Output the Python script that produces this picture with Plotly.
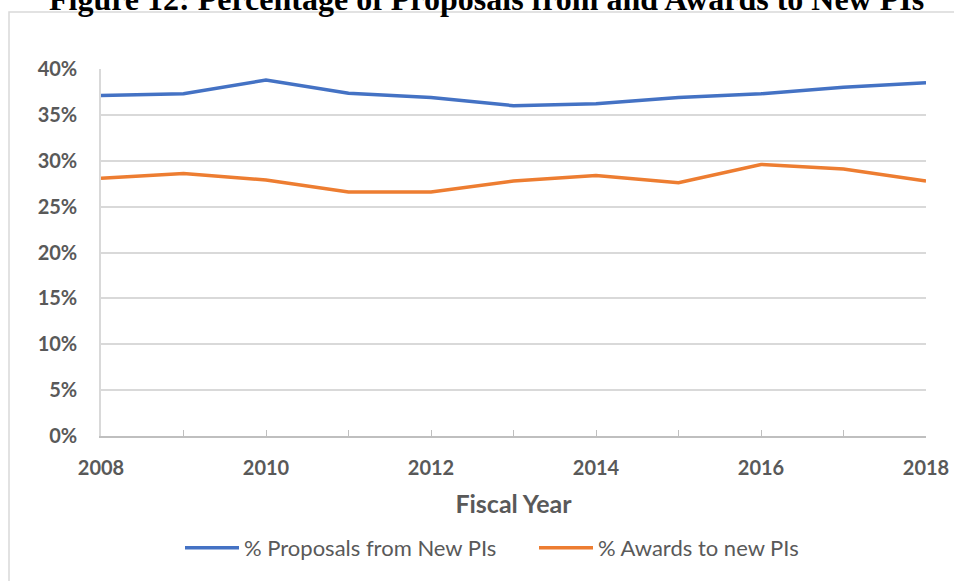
import plotly.graph_objects as go

years = [2008, 2009, 2010, 2011, 2012, 2013, 2014, 2015, 2016, 2017, 2018]
proposals_new_pi = [37.1, 37.3, 38.8, 37.35, 36.9, 36.0, 36.2, 36.9, 37.3, 38.0, 38.5]
awards_new_pi = [28.1, 28.6, 27.9, 26.6, 26.6, 27.8, 28.4, 27.6, 29.6, 29.1, 27.8]
y_ticks = [0, 5, 10, 15, 20, 25, 30, 35, 40]
y_tick_labels = ["0%", "5%", "10%", "15%", "20%", "25%", "30%", "35%", "40%"]
x_ticks = [2008, 2010, 2012, 2014, 2016, 2018]

title_text = "Figure 12: Percentage of Proposals from and Awards to New PIs"
series_names = ["% Proposals from New PIs", "% Awards to new PIs"]
colors = ["#4472C4", "#ED7D31"]

W, H = 954, 581
L, R, T, B = 101, 28, 69, 145
pw, ph = W - L - R, H - T - B

fig = go.Figure()
for name, vals, c in zip(series_names, [proposals_new_pi, awards_new_pi], colors):
    fig.add_trace(go.Scatter(x=years, y=vals, mode="lines", name=name,
                             line=dict(color=c, width=3.5)))

grey = "#595959"
fig.update_layout(
    width=W, height=H,
    margin=dict(l=L, r=R, t=T, b=B, autoexpand=False),
    paper_bgcolor="white", plot_bgcolor="white",
    font=dict(family="Lato, Open Sans, sans-serif", color=grey),
    showlegend=True,
    legend=dict(orientation="h", x=(180 - L) / pw, xanchor="left", y=-112 / ph, yanchor="middle",
                font=dict(size=22, color=grey), itemwidth=54,
                entrywidth=285, entrywidthmode="pixels"),
    xaxis=dict(range=[2008, 2018], tickvals=x_ticks, ticks="inside", ticklen=6,
               tickcolor="#bfbfbf", showline=True, linecolor="#bfbfbf", linewidth=1.5,
               showgrid=False, zeroline=False, automargin=False,
               minor=dict(dtick=1, ticks="inside", ticklen=6, tickcolor="#bfbfbf", showgrid=False),
               tickfont=dict(size=20, color=grey, weight="bold"),
               ticklabelstandoff=13,
               title=dict(text="<b>Fiscal Year</b>", font=dict(size=25, color=grey), standoff=18)),
    yaxis=dict(range=[0, 40], tickvals=y_ticks, ticktext=y_tick_labels,
               showline=True, linecolor="#d9d9d9", linewidth=1.5,
               showgrid=True, gridcolor="#d9d9d9", gridwidth=1.5, zeroline=False,
               automargin=False,
               tickfont=dict(size=20, color=grey, weight="bold"),
               ticklabelstandoff=18),
    annotations=[dict(text="<b>" + title_text + "</b>", xref="paper", yref="paper",
                      x=(486 - L) / pw, xanchor="center",
                      y=1 + (T + 1) / ph, yanchor="middle", showarrow=False,
                      font=dict(family="Liberation Serif, Times New Roman, serif", size=32, color="black"))],
    shapes=[dict(type="rect", xref="paper", yref="paper",
                 x0=(9 - L) / pw, x1=(W + 20 - L) / pw,
                 y0=-(B + 20) / ph, y1=1 + (T - 12) / ph,
                 line=dict(color="#d9d9d9", width=1.5), layer="below")],
)

fig.write_html("out.html", config={"displayModeBar": False},
               post_script="document.body.style.margin='0px';")
